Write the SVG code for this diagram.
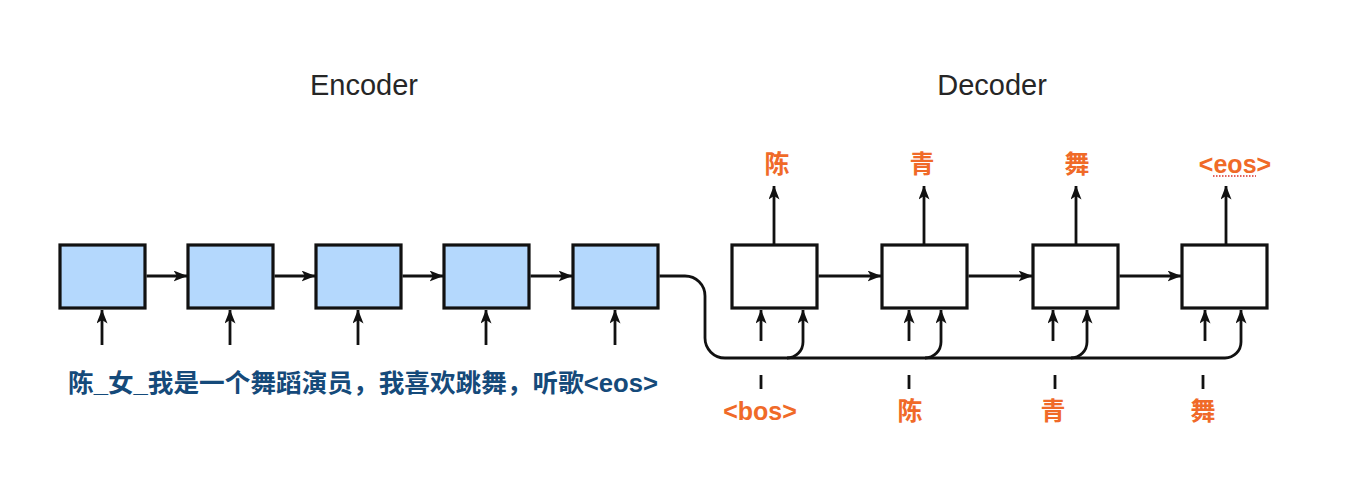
<svg xmlns="http://www.w3.org/2000/svg" width="1348" height="494" viewBox="0 0 1348 494">
<defs>
<style>
.title{font-family:"Liberation Sans",Arial,sans-serif;font-size:29px;fill:#262626;text-anchor:middle}
.enc{fill:#b4d8fd;stroke:#111;stroke-width:3.2}
.dec{fill:#fff;stroke:#111;stroke-width:3.2}
.ln{fill:none;stroke:#111;stroke-width:2.8}
.arr{fill:none;stroke:#111;stroke-width:2.8;marker-end:url(#ah)}
.or{font-family:"Liberation Sans","Noto Sans CJK SC",sans-serif;font-size:25px;font-weight:bold;fill:#f06a28;text-anchor:middle}
.src{font-family:"Liberation Sans","Noto Sans CJK SC",sans-serif;font-size:25.5px;font-weight:bold;fill:#154a7a}
</style>
<marker id="ah" viewBox="0 0 14 11" refX="13.5" refY="5.5" markerWidth="14" markerHeight="11" orient="auto" markerUnits="userSpaceOnUse">
<path d="M0,0 L14,5.5 L0,11 L3.5,5.5 z" fill="#111"/>
</marker>
</defs>
<rect width="1348" height="494" fill="#fff"/>
<text class="title" x="364" y="95">Encoder</text>
<text class="title" x="992" y="95">Decoder</text>

<g id="encoder-nodes">
<g id="enc1"><rect class="enc" x="60" y="245" width="85" height="63"/></g>
<g id="enc2"><rect class="enc" x="188" y="245" width="85" height="63"/></g>
<g id="enc3"><rect class="enc" x="316" y="245" width="85" height="63"/></g>
<g id="enc4"><rect class="enc" x="444" y="245" width="85" height="63"/></g>
<g id="enc5"><rect class="enc" x="573" y="245" width="85" height="63"/></g>
</g>
<g id="decoder-nodes">
<g id="dec1"><rect class="dec" x="732" y="245" width="85" height="63"/></g>
<g id="dec2"><rect class="dec" x="882" y="245" width="85" height="63"/></g>
<g id="dec3"><rect class="dec" x="1033" y="245" width="85" height="63"/></g>
<g id="dec4"><rect class="dec" x="1182" y="245" width="85" height="63"/></g>
</g>

<g id="connectors">
<path class="arr" d="M146.5,276 H187"/>
<path class="arr" d="M274.5,276 H315"/>
<path class="arr" d="M402.5,276 H443"/>
<path class="arr" d="M530.5,276 H572"/>
<path class="arr" d="M102,345 V310"/>
<path class="arr" d="M230,345 V310"/>
<path class="arr" d="M358,345 V310"/>
<path class="arr" d="M486,345 V310"/>
<path class="arr" d="M615,345 V310"/>

<path class="arr" d="M818.5,276 H881"/>
<path class="arr" d="M968.5,276 H1032"/>
<path class="arr" d="M1119.5,276 H1181"/>

<path class="arr" d="M774,244 V186"/>
<path class="arr" d="M924,244 V186"/>
<path class="arr" d="M1076,244 V186"/>
<path class="arr" d="M1226,244 V186"/>

<path class="arr" d="M761,341 V310"/>
<path class="arr" d="M909,341 V310"/>
<path class="arr" d="M1053,341 V310"/>
<path class="arr" d="M1205,341 V310"/>

<path class="arr" d="M659.5,276 H685 A20,20 0 0 1 705,296 V338 A20,20 0 0 0 725,358 H1225 A16,16 0 0 0 1241,342 V310"/>
<path class="arr" d="M787,358 A16,16 0 0 0 803,342 V310"/>
<path class="arr" d="M925,358 A16,16 0 0 0 941,342 V310"/>
<path class="arr" d="M1071,358 A16,16 0 0 0 1087,342 V310"/>

<path class="ln" d="M761,375 V389"/>
<path class="ln" d="M909,375 V389"/>
<path class="ln" d="M1055,375 V389"/>
<path class="ln" d="M1203,375 V389"/>
</g>

<g id="labels">
<text class="src" x="68" y="392" textLength="590" lengthAdjust="spacingAndGlyphs">陈_女_我是一个舞蹈演员，我喜欢跳舞，听歌&lt;eos&gt;</text>
<text class="or" x="777" y="173">陈</text>
<text class="or" x="922" y="173">青</text>
<text class="or" x="1077" y="173">舞</text>
<text class="or" x="1235" y="173">&lt;eos&gt;</text>
<line x1="1213" y1="176" x2="1256" y2="176" stroke="#d9302a" stroke-width="1.3" stroke-dasharray="1.5,1.5"/>
<text class="or" x="760" y="420">&lt;bos&gt;</text>
<text class="or" x="910" y="420">陈</text>
<text class="or" x="1053" y="420">青</text>
<text class="or" x="1203" y="420">舞</text>
</g>
</svg>
